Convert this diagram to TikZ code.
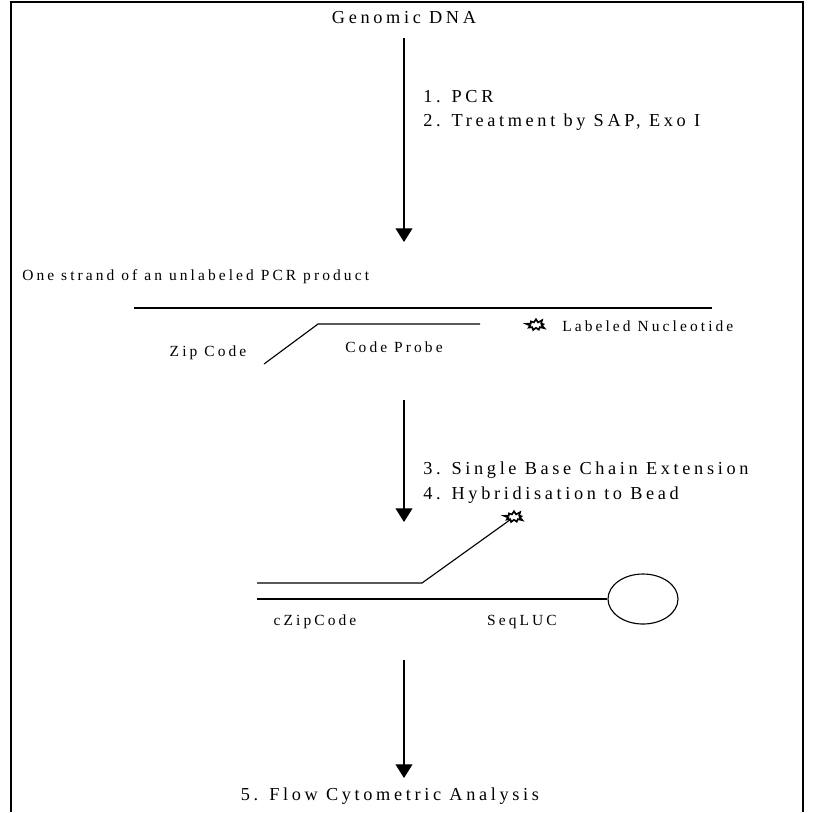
\documentclass[tikz,border=0pt]{standalone}
\usepackage{fontspec}
\setmainfont[LetterSpace=20]{Liberation Serif}
\usetikzlibrary{arrows.meta,positioning,shapes.symbols,shapes.geometric}

\begin{document}
\begin{tikzpicture}[x=0.025cm,y=-0.025cm,
    big/.style={font=\fontsize{13}{15}\selectfont,inner sep=0pt},
    small/.style={font=\fontsize{11}{13}\selectfont,inner sep=0pt},
    flow/.style={-{Triangle[width=0.42cm,length=0.34cm]},line width=0.8pt},
    strand/.style={line width=0.8pt},
    dye/.style={starburst,draw,line width=1.2pt,starburst points=9,
      starburst point height=0.1cm,minimum width=0.5cm,minimum height=0.34cm,inner sep=0pt},
    bead/.style={ellipse,draw,line width=0.8pt,minimum width=1.75cm,minimum height=1.25cm}]
  \useasboundingbox (0,0) rectangle (813,812);
  % frame
  \draw[line width=1.4pt] (11,812) -- (11,2) -- (803,2) -- (803,812);

  % top: genomic DNA and PCR
  \node[big] (gdna) at (404,18) {Genomic DNA};
  \coordinate (a1s) at (404,38);
  \coordinate (a1e) at (404,242);
  \draw[flow] (a1s) -- (a1e);
  \node[big,anchor=west] (pcr) at (423,97) {1. PCR};
  \node[big,anchor=west] (sap) at (423,122) {2. Treatment by SAP, Exo I};

  % PCR product with probe
  \node[small,anchor=west] (strandlbl) at (22,277) {One strand of an unlabeled PCR product};
  \coordinate (pcr1) at (134,308);
  \coordinate (pcr2) at (712,308);
  \draw[strand] (pcr1) -- (pcr2);
  \coordinate (zip1) at (264,364);
  \coordinate (zip2) at (318,324);
  \coordinate (prb2) at (480,324);
  \draw[strand] (zip1) -- (zip2) -- (prb2);
  \node[small] (ziplbl) at (208,353) {Zip Code};
  \node[small] (prblbl) at (394,347) {Code Probe};
  \node[dye] (dye1) at (536,325) {};
  \node[small,anchor=west] (nuclbl) at (562,326) {Labeled Nucleotide};

  % extension and hybridisation
  \coordinate (a2s) at (404,400);
  \coordinate (a2e) at (404,522);
  \draw[flow] (a2s) -- (a2e);
  \node[big,anchor=west] (sbce) at (423,470) {3. Single Base Chain Extension};
  \node[big,anchor=west] (hyb) at (423,495) {4. Hybridisation to Bead};

  % bead complex
  \node[bead] (bead) at (643,599) {};
  \node[dye] (dye2) at (514,517) {};
  \coordinate (up1) at (257,583);
  \coordinate (up2) at (422,583);
  \coordinate (lo1) at (257,599);
  \draw[strand] (up1) -- (up2) -- (dye2);
  \draw[strand] (lo1) -- (bead);
  \node[small] (czip) at (315,622) {cZipCode};
  \node[small] (seq) at (522,622) {SeqLUC};

  % analysis
  \coordinate (a3s) at (404,660);
  \coordinate (a3e) at (404,778);
  \draw[flow] (a3s) -- (a3e);
  \node[big] (flowlbl) at (390,796) {5. Flow Cytometric Analysis};
\end{tikzpicture}
\end{document}
